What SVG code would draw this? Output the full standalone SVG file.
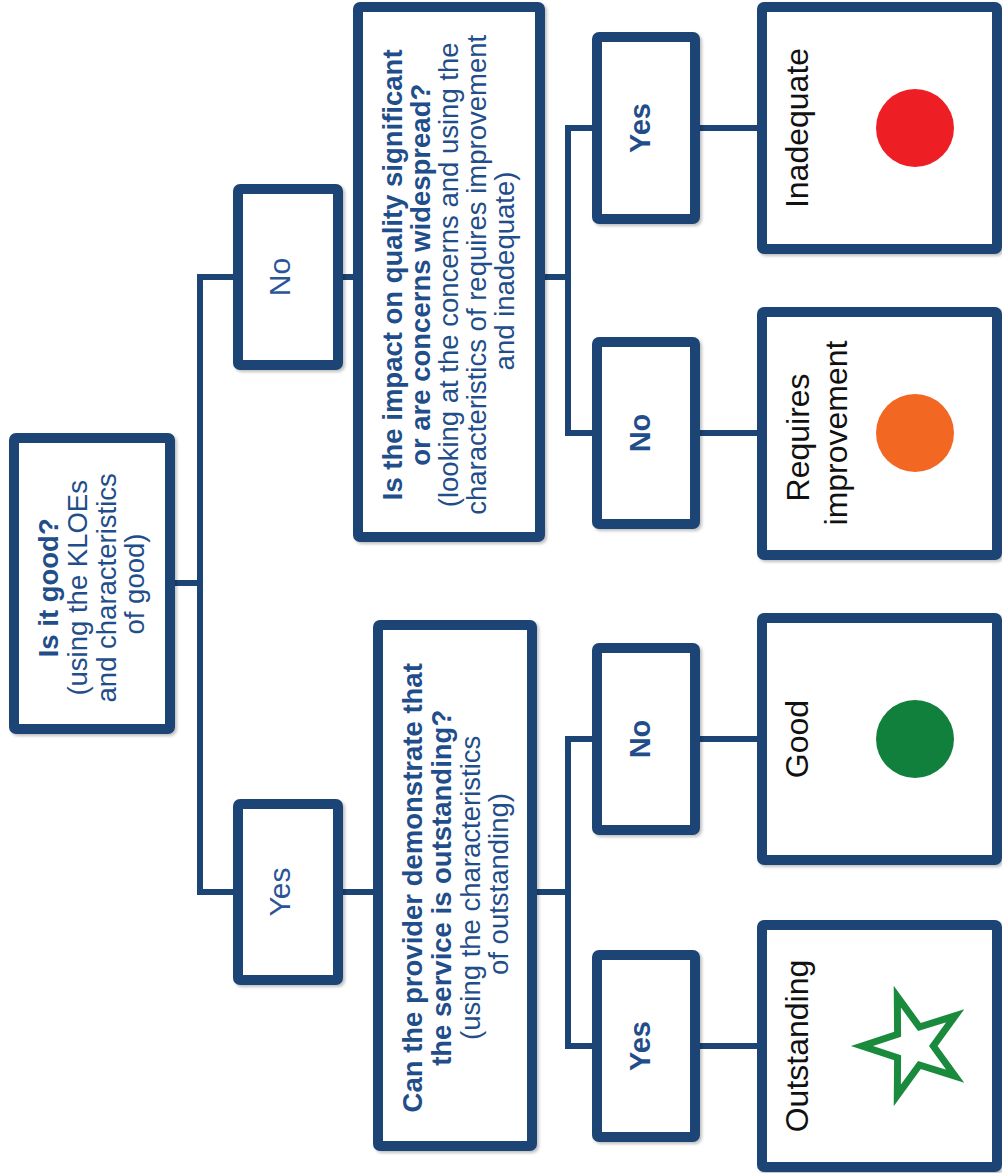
<svg xmlns="http://www.w3.org/2000/svg" width="1002" height="1173" viewBox="0 0 1002 1173">
<defs>
<filter id="sh" x="-10%" y="-10%" width="130%" height="130%">
<feDropShadow dx="2" dy="2" stdDeviation="1.5" flood-color="#000" flood-opacity="0.25"/>
</filter>
</defs>
<style>
.box{fill:#fff;stroke:#1c4474;stroke-width:10;filter:url(#sh)}
.con{fill:none;stroke:#1c4474;stroke-width:6;stroke-linejoin:miter}
.q{font-family:"Liberation Sans",Arial,sans-serif;font-size:27.5px;fill:#1f4e8a;text-anchor:middle;dominant-baseline:central}
.b{font-weight:bold}
.l1{font-family:"Liberation Sans",Arial,sans-serif;font-size:30px;fill:#2a5597;text-anchor:middle;dominant-baseline:central}
.l3{font-family:"Liberation Sans",Arial,sans-serif;font-size:29px;font-weight:bold;fill:#1f4e8a;text-anchor:middle;dominant-baseline:central}
.out{font-family:"Liberation Sans",Arial,sans-serif;font-size:32px;fill:#111;text-anchor:middle;dominant-baseline:central}
</style>
<rect width="1002" height="1173" fill="#fff"/>
<g id="connectors">
<path class="con" d="M175,583 H200"/>
<path class="con" d="M233,277 H200 V892 H233"/>
<path class="con" d="M343,277 H353"/>
<path class="con" d="M343,892 H373"/>
<path class="con" d="M545,277 H568"/>
<path class="con" d="M592,128 H568 V433 H592"/>
<path class="con" d="M537,892 H568"/>
<path class="con" d="M592,739 H568 V1046 H592"/>
<path class="con" d="M700,128 H757"/>
<path class="con" d="M700,433 H757"/>
<path class="con" d="M700,739 H757"/>
<path class="con" d="M700,1046 H757"/>
</g>
<g id="root">
<rect class="box" x="14" y="438" width="156" height="291" rx="2"/>
<text class="q" transform="translate(91,584) rotate(-90)">
<tspan class="b" x="0" y="-43">Is it good?</tspan>
<tspan x="0" y="-14.5">(using the KLOEs</tspan>
<tspan x="0" y="14.5">and characteristics</tspan>
<tspan x="0" y="43">of good)</tspan>
</text>
</g>
<g id="no1">
<rect class="box" x="238" y="189" width="100" height="176" rx="2"/>
<text class="l1" transform="translate(279,277) rotate(-90)">No</text>
</g>
<g id="yes1">
<rect class="box" x="238" y="804" width="100" height="176" rx="2"/>
<text class="l1" transform="translate(279,892) rotate(-90)">Yes</text>
</g>
<g id="qa">
<rect class="box" x="358" y="7" width="182" height="530" rx="2"/>
<text class="q" transform="translate(448,271) rotate(-90)">
<tspan class="b" x="0" y="-56">Is the impact on quality significant</tspan>
<tspan class="b" x="0" y="-28">or are concerns widespread?</tspan>
<tspan x="0" y="0">(looking at the concerns and using the</tspan>
<tspan x="0" y="28">characteristics of requires improvement</tspan>
<tspan x="0" y="56">and inadequate)</tspan>
</text>
</g>
<g id="qb">
<rect class="box" x="378" y="625" width="154" height="521" rx="2"/>
<text class="q" transform="translate(455,884) rotate(-90)">
<tspan class="b" x="0" y="-43">Can the provider demonstrate that</tspan>
<tspan class="b" x="0" y="-14.5">the service is outstanding?</tspan>
<tspan x="0" y="14.5">(using the characteristics</tspan>
<tspan x="0" y="43">of outstanding)</tspan>
</text>
</g>
<g id="yes-a">
<rect class="box" x="597" y="37" width="98" height="182" rx="2"/>
<text class="l3" transform="translate(640,128) rotate(-90)">Yes</text>
</g>
<g id="no-a">
<rect class="box" x="597" y="342" width="98" height="182" rx="2"/>
<text class="l3" transform="translate(640,433) rotate(-90)">No</text>
</g>
<g id="no-b">
<rect class="box" x="597" y="648" width="98" height="182" rx="2"/>
<text class="l3" transform="translate(640,739) rotate(-90)">No</text>
</g>
<g id="yes-b">
<rect class="box" x="597" y="955" width="98" height="182" rx="2"/>
<text class="l3" transform="translate(640,1046) rotate(-90)">Yes</text>
</g>
<g id="inadequate">
<rect class="box" x="762" y="7" width="235" height="242" rx="2"/>
<text class="out" transform="translate(797,128) rotate(-90)">Inadequate</text>
<circle cx="915" cy="128" r="39" fill="#ed1f24"/>
</g>
<g id="requires-improvement">
<rect class="box" x="762" y="312" width="235" height="243" rx="2"/>
<text class="out" transform="translate(817,433) rotate(-90)">
<tspan x="0" y="-19">Requires</tspan>
<tspan x="0" y="19">improvement</tspan>
</text>
<circle cx="915" cy="433" r="39" fill="#f26722"/>
</g>
<g id="good">
<rect class="box" x="762" y="618" width="235" height="242" rx="2"/>
<text class="out" transform="translate(797,739) rotate(-90)">Good</text>
<circle cx="915" cy="739" r="39" fill="#11803c"/>
</g>
<g id="outstanding">
<rect class="box" x="762" y="925" width="235" height="242" rx="2"/>
<text class="out" transform="translate(797,1046) rotate(-90)">Outstanding</text>
<polygon points="862,1046 897.6,1034.2 897.3,996.6 919.4,1027 955.2,1015.8 933.3,1046 955.2,1076.2 919.4,1065 897.3,1095.4 897.6,1057.8" fill="#fff" stroke="#1a8a3c" stroke-width="7" stroke-linejoin="miter"/>
</g>
</svg>
